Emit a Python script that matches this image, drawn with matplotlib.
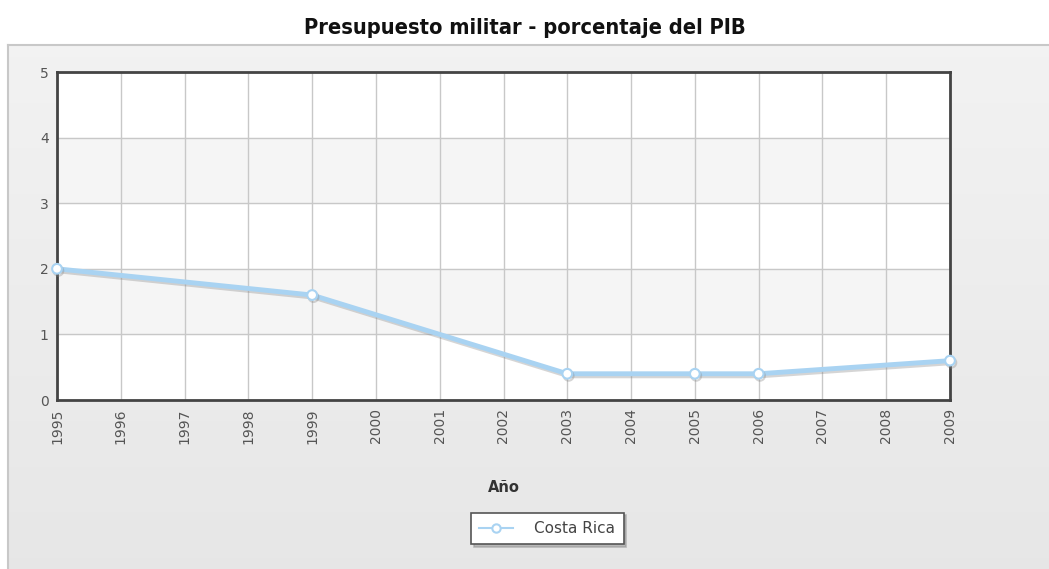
import numpy as np
import matplotlib.pyplot as plt
import matplotlib.patheffects as pe

# datos
years = [1995, 1999, 2003, 2005, 2006, 2009]
values = [2.0, 1.6, 0.4, 0.4, 0.4, 0.6]
xticks = list(range(1995, 2010))
yticks = [0, 1, 2, 3, 4, 5]
series_name = 'Costa Rica'

fig = plt.figure(figsize=(10.49, 5.69), dpi=100)
fig.patch.set_facecolor('white')

# panel de fondo con degradado
bg = fig.add_axes([8 / 1049, 0, 1 - 8 / 1049, 1 - 45 / 569], zorder=0)
grad = np.linspace(0.95, 0.905, 256).reshape(-1, 1)
bg.imshow(np.dstack([grad, grad, grad]), aspect='auto', extent=[0, 1, 0, 1])
bg.set_xlim(0, 1)
bg.set_ylim(0, 1)
bg.set_xticks([])
bg.set_yticks([])
for s in ['right', 'bottom']:
    bg.spines[s].set_visible(False)
for s in ['left', 'top']:
    bg.spines[s].set_color('#c8c8c8')
    bg.spines[s].set_linewidth(1.5)

fig.text(0.5, 1 - 28 / 569, 'Presupuesto militar - porcentaje del PIB',
         ha='center', va='center', fontsize=15.7, fontweight='bold',
         fontstretch='condensed', family=['DejaVu Sans'], color='#111111')

ax = fig.add_axes([57 / 1049, 1 - 400 / 569, (950 - 57) / 1049, (400 - 72) / 569], zorder=1)
ax.set_facecolor('white')

# bandas alternas
for i in range(0, 5):
    if i % 2 == 1:
        ax.axhspan(i, i + 1, color='#f5f5f5', zorder=0)

ax.set_xlim(1995, 2009)
ax.set_ylim(0, 5)
ax.set_xticks(xticks)
ax.set_yticks(yticks)
ax.set_xticklabels([str(y) for y in xticks], rotation=90)
ax.tick_params(axis='both', length=0, labelsize=10, colors='#555555')
ax.tick_params(axis='x', pad=6)
ax.tick_params(axis='y', pad=6)
ax.grid(True, color='#c8c8c8', linewidth=1)
ax.set_axisbelow(True)
for s in ax.spines.values():
    s.set_color('#444444')
    s.set_linewidth(2)

ax.plot(years, values, color='#a9d3f2', linewidth=3.5, marker='o', markersize=7,
        markerfacecolor='white', markeredgecolor='#a9d3f2', markeredgewidth=1.5,
        label=series_name, clip_on=False, zorder=5,
        path_effects=[pe.SimpleLineShadow(offset=(1, -1.5), shadow_color='#888888', alpha=0.35),
                      pe.Normal()])

ax.set_xlabel('Año', fontsize=10.5, fontweight='bold', color='#333333', labelpad=26)

leg = ax.legend(loc='upper center', bbox_to_anchor=(0.549, -0.32), frameon=True,
                fancybox=False, shadow={'color': '#999999', 'alpha': 0.6, 'ox': 2, 'oy': -2},
                fontsize=11, handlelength=2.2, borderpad=0.55, handletextpad=1.4,
                labelcolor='#444444')
leg.get_frame().set_edgecolor('#555555')
leg.get_frame().set_linewidth(1.2)
for h in leg.legend_handles:
    h.set_linewidth(1.5)
    h.set_markersize(6)
    h.set_path_effects([])

fig.savefig('out.png', dpi=100)
